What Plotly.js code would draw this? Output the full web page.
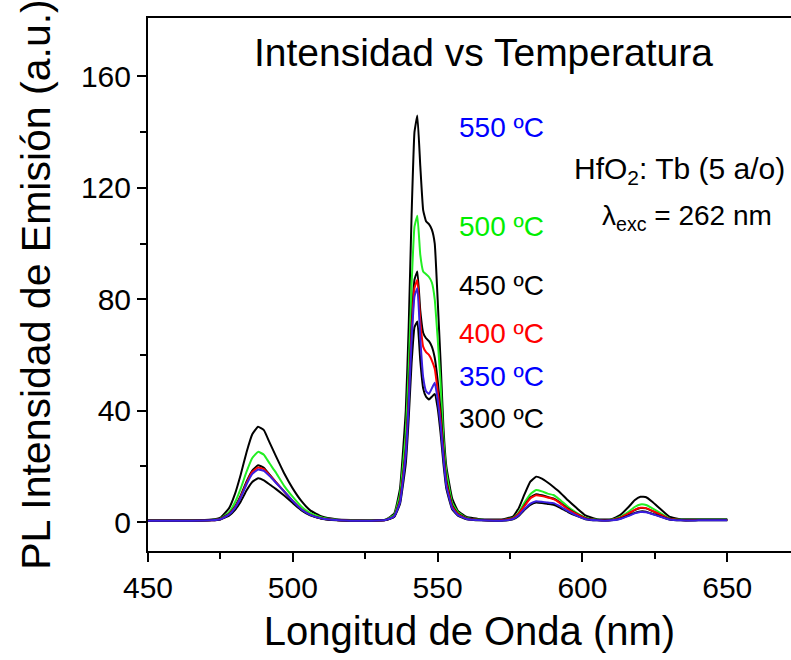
<!DOCTYPE html>
<html>
<head>
<meta charset="utf-8">
<script src="https://cdn.plot.ly/plotly-3.0.1.min.js"></script>
<style>html,body{margin:0;padding:0;background:#fff;}#chart{width:791px;height:660px;}</style>
</head>
<body>
<div id="chart"></div>
<script>
// Wavelength (nm)
const wavelength = [450,465,472,475,478,480,482,484,486,488,490,492,494,497,500,503,506,510,515,520,527,532,535,537,539,540,541,542,543,544,545,546,547,548,549,550,551,552,553,555,557,560,565,572,576,578,580,582,584,586,588,590,592,595,598,601,605,610,613,616,618,620,622,624,627,630,634,640,650];

// PL intensity (a.u.) per annealing temperature
const i550 = [0.6,0.6,0.9,1.6,5,10,17,25,31.5,34.2, 33,28.5,24,17.5,12,7.5,4.2,2,1,0.7, 0.6,0.8,3,12,40,70,110,140,146,128, 112,108,107,105,100,80,58,34,20,8.5, 4,1.8,1,0.9,2,5,10,14.5,16.3,15.6, 14.2,12.6,10.9,7.8,5,2.4,1,1,2.5,5.5, 7.8,9.1,8.9,7.4,4.6,1.9,1,1,1];
const i500 = [0.5,0.5,0.7,1.2,3.5,7,12,18,23,25.2, 24.2,21,18,13,9,5.5,3.2,1.6,0.8,0.6, 0.6,0.8,2.5,10,32,55,85,106,110,96, 90,89,88,86,80,66,50,30,18,7, 3.5,1.5,0.8,0.7,1.5,3.5,7,10,11.5,11, 10.2,9.7,8.2,5.5,3.3,1.6,0.8,0.8,1.8,3.8, 5.4,6.3,6.1,5,3.2,1.3,0.8,0.8,0.8];
const i450 = [0.5,0.5,0.7,1.1,3,5.5,9.5,14.5,18.5,20.4, 19.5,17,14.5,11,7.5,4.5,2.6,1.3,0.7,0.5, 0.5,0.7,2,8,26,45,70,87,90,76, 68,66,65,63,59,51,40,26,15,6, 3,1.3,0.7,0.6,1.3,3,6,8.8,10,9.6, 9,8.5,7.2,4.8,2.9,1.4,0.7,0.7,1.5,3, 4.3,5,4.9,4,2.6,1.1,0.7,0.7,0.7];
const i400 = [0.5,0.5,0.6,1,2.8,5.2,9,14,18,19.6, 19,16.8,14.5,11,7.5,4.5,2.6,1.3,0.7,0.5, 0.5,0.7,2,7.5,25,43,67,84,87,72, 63,61,60,58,55,47,37,24,14,5.5, 2.8,1.2,0.7,0.6,1.3,3,5.8,8.5,9.6,9.3, 8.8,8.2,7,4.6,2.8,1.3,0.7,0.7,1.5,3.1, 4.4,5.1,5,4.1,2.6,1.1,0.7,0.7,0.7];
const i350 = [0.5,0.5,0.6,1,2.7,5,8.7,13.5,17.3,18.9, 18.4,16.5,14.3,11,7.5,4.5,2.6,1.3,0.7,0.5, 0.5,0.7,2,7,24,42,65,81,84,66, 52,47,46,48,50,44,35,23,13,5, 2.5,1.1,0.6,0.5,1.1,2.4,4.7,6.6,7.5,7.3, 7,6.8,5.8,3.9,2.3,1.1,0.6,0.6,1.1,2.2, 3.1,3.6,3.5,2.9,1.9,0.9,0.6,0.6,0.6];
const i300 = [0.5,0.5,0.6,0.9,2.3,4.3,7.3,11.3,14.4,15.7, 15,13.5,12,9.5,6.8,4.2,2.4,1.2,0.6,0.5, 0.5,0.7,1.8,6.5,21,37,57,70,72,58, 48,45,44,45,46,41,32,21,12,4.6, 2.3,1,0.6,0.5,1,2.2,4.4,6.2,7,6.8, 6.5,6.2,5.3,3.6,2.2,1,0.6,0.6,1.2,2.4, 3.3,3.8,3.7,3,2,0.9,0.6,0.6,0.6];

const seriesNames = ['550 ºC','500 ºC','450 ºC','400 ºC','350 ºC','300 ºC'];
const xTicks = [450,500,550,600,650];
const yTicks = [0,40,80,120,160];

const FONT = 'Liberation Sans, Arial, sans-serif';
const W = 791, H = 660;
const L = 148, R = 0, T = 18, B = 109;
const xr = [450, 672], yr = [-10.4, 181];
// pixel -> data helpers for text placement
const X = px => xr[0] + (px - L) / (W - L - R) * (xr[1] - xr[0]);
const Y = py => yr[1] - (py - T) / (H - T - B) * (yr[1] - yr[0]);

const data = [
  {x: wavelength, y: i550, name: seriesNames[0], line: {color: '#000000', width: 2}},
  {x: wavelength, y: i500, name: seriesNames[1], line: {color: '#22ee22', width: 2}},
  {x: wavelength, y: i450, name: seriesNames[2], line: {color: '#000000', width: 2}},
  {x: wavelength, y: i400, name: seriesNames[3], line: {color: '#ff0000', width: 2}},
  {x: wavelength, y: i300, name: seriesNames[5], line: {color: '#000000', width: 2}},
  {x: wavelength, y: i350, name: seriesNames[4], line: {color: '#3a1fe0', width: 2}}
].map(t => Object.assign({type: 'scatter', mode: 'lines', hoverinfo: 'skip'}, t,
  {line: Object.assign({shape: 'spline', smoothing: 0.35}, t.line)}));

const labelColors = ['#0000ff','#00ee00','#000000','#ff0000','#0000ff','#000000'];
const labelY = [127, 226, 285, 333, 376, 418];
const ann = seriesNames.map((s, k) => ({
  x: X(546), y: Y(labelY[k]), xref: 'x', yref: 'y', xanchor: 'right', yanchor: 'middle',
  text: s, showarrow: false, font: {family: FONT, size: 28, color: labelColors[k]}
}));
ann.push({x: X(483), y: Y(52), xref: 'x', yref: 'y', xanchor: 'center', yanchor: 'middle',
  text: 'Intensidad vs Temperatura', showarrow: false, font: {family: FONT, size: 39, color: '#000'}});
ann.push({x: X(679), y: Y(170), xref: 'x', yref: 'y', xanchor: 'center', yanchor: 'middle',
  text: 'HfO<sub>2</sub>: Tb (5 a/o)', showarrow: false, font: {family: FONT, size: 30, color: '#000'}});
ann.push({x: X(687), y: Y(217), xref: 'x', yref: 'y', xanchor: 'center', yanchor: 'middle',
  text: 'λ<sub>exc</sub> = 262 nm', showarrow: false, font: {family: FONT, size: 28, color: '#000'}});

const layout = {
  width: W, height: H,
  margin: {l: L, r: R, t: T, b: B},
  paper_bgcolor: '#fff', plot_bgcolor: '#fff',
  showlegend: false,
  font: {family: FONT, color: '#000'},
  xaxis: {
    range: xr, tickvals: xTicks, ticktext: xTicks.map(String),
    showline: true, linecolor: '#000', linewidth: 2, mirror: true,
    ticks: 'outside', ticklen: 9, tickwidth: 2, tickcolor: '#000',
    minor: {tickvals: [475,525,575,625], ticks: 'outside', ticklen: 6, tickwidth: 2, tickcolor: '#000'},
    showgrid: false, zeroline: false,
    tickfont: {family: FONT, size: 30, color: '#000'},
    title: {text: 'Longitud de Onda (nm)', font: {family: FONT, size: 40, color: '#000'}, standoff: 14}
  },
  yaxis: {
    range: yr, tickvals: yTicks, ticktext: yTicks.map(String),
    showline: true, linecolor: '#000', linewidth: 2,
    ticks: 'outside', ticklen: 9, tickwidth: 2, tickcolor: '#000',
    minor: {tickvals: [20,60,100,140], ticks: 'outside', ticklen: 6, tickwidth: 2, tickcolor: '#000'},
    showgrid: false, zeroline: false,
    tickfont: {family: FONT, size: 30, color: '#000'},
    title: {text: 'PL Intensidad de Emisión (a.u.)', font: {family: FONT, size: 41, color: '#000'}, standoff: 18}
  },
  annotations: ann
};

Plotly.newPlot('chart', data, layout, {displayModeBar: false, staticPlot: true});
</script>
</body>
</html>
